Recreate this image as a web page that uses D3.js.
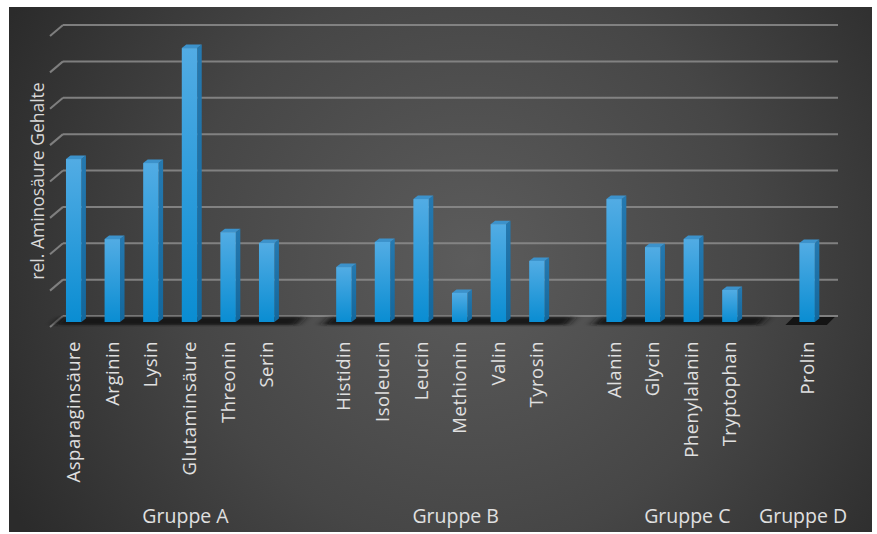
<!DOCTYPE html>
<html><head><meta charset="utf-8">
<script src="https://cdn.jsdelivr.net/npm/d3@7"></script>
<style>html,body{margin:0;padding:0;background:#fff;}svg{display:block;}</style>
</head><body>
<svg id="chart" width="877" height="534"></svg>
<script>
// ---- data ----
const categories = ["Asparaginsäure","Arginin","Lysin","Glutaminsäure","Threonin","Serin",
  "Histidin","Isoleucin","Leucin","Methionin","Valin","Tyrosin",
  "Alanin","Glycin","Phenylalanin","Tryptophan",
  "Prolin"];
const values = [4.48,2.28,4.37,7.53,2.47,2.17,
  1.51,2.20,3.38,0.80,2.69,1.68,
  3.38,2.06,2.28,0.88,
  2.17];
const groupNames = ["Gruppe A","Gruppe B","Gruppe C","Gruppe D"];
const groupSizes = [6,6,4,1];
const yTicks = [0,1,2,3,4,5,6,7,8];
const yTitle = "rel. Aminosäure Gehalte";

// ---- layout ----
const svg = d3.select("#chart");
const DX = 13, DY = -11;          // depth of wall
const BDX = 4.5, BDY = -3.5;      // depth of bars

const slots = [];
const groupSlots = [];
let ci = 0;
groupSizes.forEach((n, g) => {
  const gs = [];
  for (let i = 0; i < n; i++) { slots.push("c" + ci); gs.push("c" + ci); ci++; }
  if (g < groupSizes.length - 1) { slots.push("gap" + g); gs.push("gap" + g); }
  groupSlots.push(gs);
});
const catKey = categories.map((c, i) => "c" + i);

const x = d3.scaleBand().domain(slots).range([54.4, 826.4]).paddingInner(0.6).paddingOuter(0.3);
const yBack = d3.scaleLinear().domain([0, 8]).range([316, 25]);
const FRONT = 6;
const yBar = v => yBack(v) + FRONT;

const defs = svg.append("defs");
const bg = defs.append("radialGradient").attr("id","bg").attr("gradientUnits","userSpaceOnUse")
  .attr("cx",470).attr("cy",260).attr("r",520);
bg.append("stop").attr("offset","0").attr("stop-color","#5c5c5c");
bg.append("stop").attr("offset","0.55").attr("stop-color","#464646");
bg.append("stop").attr("offset","1").attr("stop-color","#2b2b2b");

const fg = defs.append("linearGradient").attr("id","front").attr("x1",0).attr("y1",0).attr("x2",0).attr("y2",1);
fg.append("stop").attr("offset","0").attr("stop-color","#52ace4");
fg.append("stop").attr("offset","1").attr("stop-color","#0a8dd2");
const sg = defs.append("linearGradient").attr("id","side").attr("x1",0).attr("y1",0).attr("x2",0).attr("y2",1);
sg.append("stop").attr("offset","0").attr("stop-color","#2579b0");
sg.append("stop").attr("offset","1").attr("stop-color","#13679c");

const blur = defs.append("filter").attr("id","soft").attr("x","-20%").attr("y","-100%").attr("width","140%").attr("height","300%");
blur.append("feGaussianBlur").attr("stdDeviation","5 1");

svg.append("rect").attr("x",9).attr("y",7).attr("width",863).attr("height",525).attr("fill","url(#bg)");

// gridlines
const grid = svg.append("g").attr("stroke","#8c8c8c").attr("stroke-width",2).attr("fill","none").attr("opacity",0.85);
const xFrontL = x.range()[0] - 4.4, xBackL = xFrontL + DX, xBackR = x.range()[1] + DX - 1.4;
yTicks.forEach(t => {
  grid.append("line").attr("x1",xBackL).attr("x2",xBackR).attr("y1",yBack(t)).attr("y2",yBack(t));
  grid.append("line").attr("x1",xFrontL).attr("y1",yBack(t)-DY).attr("x2",xBackL).attr("y2",yBack(t));
});

// floor shadows per group
const floor = svg.append("g");
groupSlots.forEach((gs, g) => {
  const cats = gs.filter(s => s.startsWith("c"));
  const first = cats[0], last = cats[cats.length - 1];
  let x0 = x(first) - 14, x1 = x(last) + x.bandwidth() + 22;
  if (g === 0) x0 = xFrontL + 4;
  if (g === groupSlots.length - 1) x1 = x(last) + x.bandwidth() + 12;
  const yb = yBack(0) + 1, yf = yBack(0) + 9;
  const pts = [[x0 + 8, yb],[x1 + 8, yb],[x1, yf],[x0, yf]];
  floor.append("path").attr("d", d3.line()(pts) + "Z")
    .attr("fill","#121212").attr("opacity",0.95)
    .attr("filter", g === groupSlots.length - 1 ? null : "url(#soft)");
});

// bars
const bars = svg.append("g");
categories.forEach((c, i) => {
  const k = catKey[i];
  const bx = x(k), bw = x.bandwidth();
  const top = yBar(values[i]), base = yBar(0);
  const g = bars.append("g");
  g.append("path").attr("d", d3.line()([[bx+bw, top],[bx+bw+BDX, top+BDY],[bx+bw+BDX, base+BDY],[bx+bw, base]]) + "Z")
    .attr("fill","url(#side)");
  g.append("path").attr("d", d3.line()([[bx, top],[bx+BDX, top+BDY],[bx+bw+BDX, top+BDY],[bx+bw, top]]) + "Z")
    .attr("fill","#3c92cb");
  g.append("rect").attr("x",bx).attr("y",top).attr("width",bw).attr("height",base-top).attr("fill","url(#front)");
});

// category labels
const font = "'Open Sans', 'DejaVu Sans', sans-serif";
svg.append("g").selectAll("text").data(categories).join("text")
  .attr("transform",(d,i)=>`translate(${x(catKey[i]) + x.bandwidth()/2 - 1},341) rotate(-90)`)
  .attr("text-anchor","end").attr("dominant-baseline","central")
  .attr("font-family",font).attr("font-size",18.5).attr("letter-spacing",0.5)
  .attr("fill","#e0e0e0").text(d=>d);

// group labels
svg.append("g").selectAll("text").data(groupNames).join("text")
  .attr("x",(d,g)=>{ const gs = groupSlots[g]; return (x(gs[0]) + x(gs[gs.length-1]) + x.bandwidth())/2 - 4; })
  .attr("y",523).attr("text-anchor","middle")
  .attr("font-family",font).attr("font-size",19.5).attr("fill","#e0e0e0").text(d=>d);

// y title
svg.append("text").attr("transform","translate(37,181) rotate(-90)")
  .attr("text-anchor","middle").attr("dominant-baseline","central")
  .attr("font-family",font).attr("font-size",17.5).attr("fill","#d8d8d8").text(yTitle);
</script>
</body></html>
